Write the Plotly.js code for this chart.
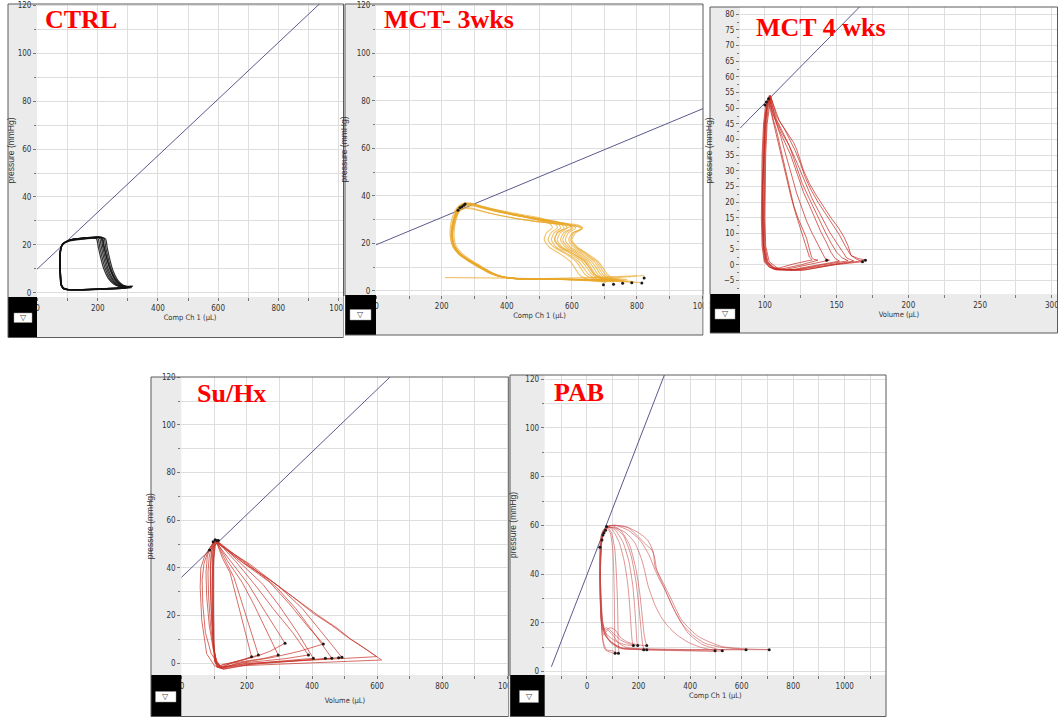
<!DOCTYPE html>
<html><head><meta charset="utf-8">
<script src="https://cdn.plot.ly/plotly-3.0.1.min.js"></script>
<style>html,body{margin:0;padding:0;background:#fff;overflow:hidden}#chart{width:1058px;height:717px}</style>
</head><body><div id="chart"></div>
<script>
// ---------------- DATA ----------------
const panelTitles = ['CTRL', 'MCT- 3wks', 'MCT 4 wks', 'Su/Hx', 'PAB'];
const xAxisTitles = ['Comp Ch 1 (µL)', 'Comp Ch 1 (µL)', 'Volume (µL)', 'Volume (µL)', 'Comp Ch 1 (µL)'];
const yAxisTitle = 'pressure (mmHg)';

// CTRL loops (volume µL, pressure mmHg)
const ctrlV = [
 [88,79,75,74,76,82,106,152,195,201,209,220,235,253,270,283,291,265,200,140,100,88],
 [89,80,76,75,77,83,108,155,200,206,214,225,240,258,275,288,296,268,205,142,102,89],
 [87,78,74,74,76,82,107,156,205,211,219,230,245,263,280,293,301,272,208,145,101,87],
 [90,80,76,75,77,84,110,158,210,216,224,235,250,268,285,298,306,275,210,148,104,90],
 [88,79,75,74,76,83,108,157,215,221,229,240,255,273,290,303,311,280,212,150,102,88],
 [89,80,76,75,77,83,109,158,220,226,234,245,260,278,295,306,314,284,215,152,103,89],
 [88,78,75,74,76,82,107,156,225,231,239,250,265,283,298,309,316,288,218,154,102,88],
 [90,80,76,75,77,84,110,160,212,219,228,240,256,276,294,306,312,282,214,150,104,90]
];
const ctrlP = [
 [1.5,3,8,14,18,20,21.6,22.4,22.6,19.5,15,10,6,3.6,2.6,2.2,2.0,1.7,1.4,1.2,1.3,1.5],
 [1.6,3,8,14,18,20.2,21.8,22.6,22.8,19.5,15,10,6,3.5,2.6,2.3,2.1,1.8,1.4,1.2,1.3,1.6],
 [1.5,3.2,8,14,18.2,20.3,22,22.8,23,19.6,15,10,6,3.4,2.5,2.3,2.2,1.8,1.5,1.3,1.3,1.5],
 [1.6,3,8,14,18,20.2,22,22.8,22.9,19.4,14.8,9.8,5.8,3.4,2.6,2.4,2.3,1.9,1.5,1.2,1.3,1.6],
 [1.5,3.1,8,14,18.1,20.3,22.1,22.9,23.1,19.6,15,10,5.8,3.3,2.6,2.4,2.4,2,1.6,1.3,1.3,1.5],
 [1.6,3,8,14,18,20.2,22,22.8,22.8,19.2,14.6,9.6,5.6,3.3,2.7,2.6,2.6,2.1,1.6,1.3,1.3,1.6],
 [1.5,3,8,14,18,20.1,21.9,22.7,22.6,19,14.4,9.4,5.5,3.2,2.6,2.6,2.8,2.2,1.6,1.3,1.3,1.5],
 [1.6,3,8,14,18.2,20.4,22.1,22.9,23.2,19.8,15.2,10.2,6,3.4,2.5,2.2,2.1,1.8,1.5,1.3,1.3,1.6]
];
const ctrlLineV = [-2, 940];
const ctrlLineP = [9.8, 121];

// MCT 3 weeks loops
const mct3V = [
 [720,690,672,660,645,615,580,565,575,598,588,555,500,440,380,330,292,268,252,241,234,232,238,255,285,320,352,385,430,520,620,710],
 [700,660,640,628,612,582,545,527,536,556,548,520,470,420,370,325,290,262,246,234,227,226,233,250,280,314,346,382,428,520,610,690],
 [760,720,702,690,674,645,612,596,606,628,614,578,515,450,388,335,295,270,254,243,236,233,239,256,287,322,354,388,432,525,640,740],
 [735,680,660,647,630,598,562,546,556,576,568,540,485,430,375,328,291,267,252,241,234,232,238,254,284,318,350,384,430,520,630,720],
 [790,705,688,676,660,630,596,580,590,612,600,566,505,445,384,332,293,272,257,247,240,238,244,262,292,326,357,388,431,522,650,770],
 [705,640,622,610,594,565,530,515,522,540,532,505,460,410,362,320,287,264,250,239,232,230,236,252,281,315,347,380,426,515,610,695],
 [810,700,680,668,652,622,588,572,582,603,592,560,500,440,380,330,292,268,252,241,234,232,238,255,285,320,352,385,430,520,660,790],
 [822,690,668,655,638,606,570,555,565,586,577,548,492,435,378,329,292,268,252,241,234,232,238,254,284,318,350,384,430,520,650,800],
 [750,712,695,683,668,638,605,590,602,628,632,600,530,460,392,337,296,271,255,244,237,234,240,257,288,323,355,389,433,525,640,735],
 [728,670,650,637,620,588,552,537,546,566,558,530,478,425,372,326,290,266,251,240,233,231,237,253,283,317,349,383,429,520,620,712],
 [745,690,668,655,640,606,566,548,555,585,600,570,505,440,378,328,290,266,250,239,231,228,234,251,281,316,348,382,428,520,640,730],
 [770,725,708,696,680,650,616,600,612,632,622,588,520,455,390,336,296,270,254,243,235,232,238,256,287,322,354,388,432,525,650,755]
];
const mct3P = [
 [4.6,5.4,7,9.5,12.5,15.5,18.5,21.5,24.5,26.5,28,28.8,30.3,31.6,33.2,35,36.4,36.2,34.6,31.5,27.5,23,19,15.8,12.8,10,7.6,6,5.2,5,4.8,4.6],
 [4.4,5.3,7,9.5,12.5,15.5,18.5,21.5,24.5,26.6,28.2,29,30.6,32,33.5,35.2,36.6,36.4,34.8,31.6,27.6,23,19,15.8,12.8,10,7.6,6,5.2,5,4.8,4.5],
 [4.2,5.2,7,9.5,12.5,15.5,18.5,21.5,24.5,26.2,27.4,27.8,28.8,30,31.5,33.2,34.8,35,33.8,31,27.2,23,19,15.8,12.8,10,7.6,6,5.2,5,4.7,4.3],
 [5,5.6,7.2,9.6,12.5,15.5,18.5,21.5,24.5,26.4,28,28.8,30.4,31.8,33.4,35.1,36.5,36.3,34.7,31.5,27.5,23,19,15.8,12.8,10,7.6,6,5.2,5,4.9,5],
 [4,5.2,7,9.5,12.5,15.5,18.5,21.5,24.5,26.4,27.8,28.6,30.2,31.6,33.2,34.9,36.3,36.1,34.5,31.4,27.4,23,19,15.8,12.8,10,7.6,6,5.2,5,4.6,4],
 [3.6,5.3,7,9.5,12.5,15.5,18.5,21.5,24.5,26.6,28.4,29.4,31.2,32.8,34.3,35.8,37,36.8,35.2,31.8,27.8,23.2,19.2,16,13,10.2,7.8,6.2,5.4,5,4.6,3.8],
 [3.5,5,7,9.5,12.5,15.5,18.5,21.5,24.5,26.5,27.9,28.9,30.8,32.3,33.8,35.4,36.8,36.5,34.8,31.5,27.5,23,19,15.8,12.8,10,7.6,6,5.2,5,4.5,3.6],
 [6.5,5.5,7.2,9.6,12.5,15.5,18.5,21.5,24.5,26.5,28,28.8,30.4,31.8,33.4,35,36.4,36.2,34.6,31.5,27.5,23,19,15.8,12.8,10,7.6,6,5.2,5.2,5.6,6.4],
 [4.4,5.3,7,9.5,12.5,15.5,18.5,21.5,24.5,25.8,26.8,27.4,28.6,29.8,31.4,33,34.4,34.6,33.6,30.8,27,22.8,18.8,15.6,12.6,9.8,7.5,6,5.2,5,4.7,4.4],
 [3.8,5.4,7.1,9.5,12.5,15.5,18.5,21.5,24.5,26.5,28.1,28.9,30.5,31.9,33.5,35.2,36.6,36.4,34.8,31.6,27.6,23,19,15.8,12.8,10,7.6,6,5.2,5,4.7,3.9],
 [4.2,5.3,7,9.5,12.5,15.5,18.5,21.5,24.5,26.5,27.5,28.4,30.2,31.7,33.4,35.1,36.5,36.2,34.5,31.3,27.3,22.8,18.8,15.6,12.6,9.8,7.5,6,5.2,5,4.6,4.2],
 [4.8,5.5,7.2,9.6,12.5,15.5,18.5,21.5,24.5,26.3,27.6,28.3,29.8,31.2,32.8,34.4,35.8,35.6,34,31,27,22.6,18.6,15.4,12.4,9.6,7.4,5.9,5.1,5,4.8,4.8]
];
const mct3FillV = [210, 420];
const mct3FillP = [5.6, 5.4];
const mct3DotsV = [697, 728, 756, 784, 815, 822, 250, 256, 262, 268, 272];
const mct3DotsP = [2.6, 2.8, 3.2, 3.5, 3.3, 5.5, 34, 35, 35.4, 36, 36.6];
const mct3LineV = [-2, 1003];
const mct3LineP = [19.4, 76.7];

// MCT 4 weeks loops
const mct4V = [
 [137,125,112,104,100,98.5,98,98,98.5,99.5,101,102.5,104,106,108,110.5,113,115,117.4,120,123,126,129,131,132.5,134,137],
 [145,130,115,105,100.5,99,98.5,98.5,99,100,101.5,103,105,108,111,114,116,119,122,125,129,133,137,140,142,145],
 [152,135,118,106,101,99,98.5,98.5,99,100,101.5,103,106,110,114,118,121,124,127,131,135,139,143,146,149,152],
 [158,140,120,107,101.5,99.5,99,99,99.5,100.5,102,103.5,107,112,117,120,123,126,130,134,138,142,146,150,154,158],
 [168,148,125,108,102,100,99.5,99.5,100,101,102.5,104,108,114,118,121,125,128,132,137,142,147,152,156,160,164,168],
 [171,150,128,110,103,100.5,100,100,100.5,101.5,103,104,110,116,120,122,125,127,131,136,141,146,151,155,158,160,165,171],
 [133,120,110,103,99.5,98,97.5,97.5,98,99,100.5,102,104,106,108,110,112.5,115,118,121,124,127,129,131,133],
 [162,144,122,107,101,99,98.5,98.5,99,100,101.5,103,108,113,117,121,125,129,133,137,141,145,150,154,157,162]
];
const mct4P = [
 [1.5,0,-1.3,-1,1,6,15,25,35,45,51,53.5,50,46,43,38,33,29,24,19,15,12,8.5,5,2.5,1.8,1.5],
 [1.5,0,-1.4,-1.2,1,6,15,25,35,45,51,54,49,45,41,36,33,28,23,19,14,10,6.5,3.5,2,1.5],
 [1.2,-0.2,-1.6,-1.4,1,6,15,25,35,45,51,53,48,43,39,35,31,27,23,19,14.5,10.5,7,4,2,1.2],
 [1.3,0,-1.7,-1.5,1,6,15,25,35,45,51,54.2,47,42,38,34,30,26,22,18,14,10.5,7,4,2.2,1.3],
 [1,0,-1.8,-1.6,1,6,15,25,35,45,51,54,47.5,43,39.5,36.5,32,28,24,20,16.5,13,9.5,6,3,1.8,1],
 [1.5,0.2,-1.6,-1.5,1,6,15,25,35,45,51,53.5,46,42,39,37,33,30,26,22,18.5,15,12,9,6,3,2,1.5],
 [1.6,0.3,-1,-0.8,1,6,15,25,35,45,51,53,49,45,41,37,32,27,22,17,12.5,8,5,2.5,1.6],
 [1.2,0,-1.6,-1.4,1,6,15,25,35,45,51,53.8,46.5,42,38,34,29.5,25,21,17.5,14,10.5,7,4,2.2,1.2]
];
const mct4DotsV = [143, 168, 170, 101, 102.5, 100];
const mct4DotsP = [1.5, 1, 1.5, 52, 53, 51];
const mct4LineV = [82.6, 170];
const mct4LineP = [43.6, 84.2];

// Su/Hx loops
const suhxV = [
 [214,190,160,130,110,102,99,97,96,96,97,100,107,125,148,170,192,214],
 [235,200,160,125,108,101,97,95,94,94,96,99,106,130,160,185,210,235],
 [296,250,200,150,115,104,98,94,92,92,94,98,105,140,185,220,260,296],
 [317,270,220,160,118,105,97,91,88,88,91,96,104,150,205,245,285,317],
 [389,320,250,170,120,106,98,92,88,87,90,95,103,170,230,280,340,389],
 [404,330,260,180,122,107,97,88,82,80,84,92,103,180,250,300,355,404],
 [435,360,280,190,124,108,96,84,76,74,78,88,102,190,270,330,390,435],
 [461,380,290,200,126,109,90,72,64,62,68,80,101,200,290,350,410,461],
 [492,400,300,210,128,100,76,61,56,58,70,81,100,210,300,370,430,492],
 [599,500,400,300,200,130,112,100,96,95,95,97,102,110,190,271,340,404,460,507,555,599],
 [614,540,450,350,250,150,115,102,97,96,96,98,103,112,195,280,350,420,480,520,570,614]
];
const suhxP = [
 [2.8,1.5,0.5,-0.5,-1.5,1,8,18,30,40,46,50,50.5,44,38,26,14,2.8],
 [3.5,2,0.5,-0.5,-1.8,1,8,18,30,40,46,50,51,44,36,25,14,3.5],
 [3.5,2,1,0,-1.8,0.5,7,18,30,40,46,50,51.5,43,34,25,14,3.5],
 [8.4,5,2.5,0.5,-2,0.5,7,18,30,40,46,50,51,43,33,24,15,8.4],
 [3.5,2,1,0,-2,0.5,7,18,30,40,46,50,52,42,32,23,13,3.5],
 [2.1,1.2,0.5,-0.5,-2.2,0.5,6,16,28,38,45,49.5,52,42,33,24,13,2.1],
 [8.1,5,2.5,0.5,-2,0.5,6,16,28,38,45,49,51.5,42,34,25,15,8.1],
 [2.1,1.4,0.6,-0.5,-2.4,0.5,4,13,25,35,42,47,51.5,42,32,23,12,2.1],
 [2.5,1.5,0.7,-0.5,-2.5,-1,4,18,32,40,45,47.5,51,41.5,32,23,13,2.5],
 [2.8,2,1.2,0.6,0,-1.5,-1.8,1,10,22,35,44,50,50.5,42,35,28,21,16,11.2,7,2.8],
 [1.4,1,0.5,0,-0.5,-1.2,-2,1,10,22,35,44,50,51,42,34,27,20,14.5,10,5.5,1.4]
];
const suhxDotsV = [214, 235, 296, 317, 389, 404, 435, 441, 461, 482, 492, 85, 96, 102, 108, 112];
const suhxDotsP = [2.8, 3.5, 3.5, 8.4, 3.5, 2.1, 8.1, 2.1, 2.1, 2.3, 2.5, 47.5, 51, 51.8, 51.5, 51.5];
const suhxLineV = [-2, 640];
const suhxLineP = [36, 120.1];

// PAB loops
const pabV = [
 [109,90,70,62,58,55,52,50,50,52,56,64,76,90,100,104,106,107,108,109],
 [122,100,75,62,57,53,50,49,50,53,58,66,78,95,108,114,118,120,121,122],
 [180,150,120,90,70,60,55,52,51,52,55,60,68,80,100,125,145,158,165,170,174,178,180],
 [197,160,130,100,75,62,56,52,51,52,55,60,70,85,110,140,163,178,186,191,194,197],
 [232,200,160,130,110,90,70,58,53,51,52,55,62,75,95,130,165,190,205,215,222,228,232],
 [220,190,150,120,100,80,65,57,53,52,53,57,65,80,105,140,170,190,202,210,216,220],
 [497,400,300,200,130,90,68,58,53,52,54,58,66,80,110,150,186,215,238,265,290,315,350,393,440,497],
 [525,420,320,220,140,95,70,59,54,52,54,58,66,80,110,160,205,240,263,280,303,340,393,450,525],
 [617,520,420,320,220,140,95,70,59,54,52,54,58,66,80,110,160,199,230,251,262,270,285,303,335,367,410,458,520,617],
 [707,600,500,400,300,200,120,80,62,55,52,53,57,64,78,100,150,200,235,257,264,290,322,367,432,523,620,707]
];
const pabP = [
 [7.5,8,9,12,16,22,30,40,48,53,56,58,59,57,50,40,30,20,12,7.5],
 [7.5,8.5,9,13,18,25,33,42,49,54,57,58.5,59.5,57,50,40,30,20,12,7.5],
 [10.7,11,12,14,16,18,22,30,40,48,53,56,58,59.5,58,53,45,36,28,20,14,11,10.7],
 [10.7,11.5,13,16,18,17,20,28,38,47,53,56,58,59.5,58,53,45,35,25,17,12,10.7],
 [10.7,11,12,14,17,18,17,20,28,38,47,53,57,59,60,58,52,42,32,22,15,12,10.7],
 [9,9.5,10,12,15,17,15,20,30,40,48,54,57,59,59,56,48,37,26,17,11,9],
 [8.5,8.5,8.7,9,9.5,12,16,22,30,40,48,54,57,59,59,57,52.8,45,34.9,27,22,18.5,15,12,10,8.5],
 [8.5,8.6,8.8,9,9.5,12,15,21,30,40,48,54,57,59.5,60,58,54,48,42,38,33.5,25,15.7,11,8.5],
 [9,9,9,9,9.2,9.5,12,15,21,30,40,48,54,57,59.5,60,59,55.4,52,50,47,42,38,33.5,26,19.8,15,11.6,10,9],
 [9,9,9,9,9.2,9.4,10,14,20,30,40,48,54,57,59.5,60,59.5,57,54,49.2,43.1,37.6,30.8,21.2,14.4,10.3,9.3,9]
];
const pabDotsV = [109, 122, 180, 197, 232, 220, 232, 497, 525, 617, 707, 50, 58, 62, 66, 72, 76];
const pabDotsP = [7.5, 7.5, 10.7, 10.7, 10.7, 9, 9, 8.5, 8.5, 9, 9, 51, 54, 56, 57, 58, 59.5];
const pabLineV = [-138, 305];
const pabLineP = [2, 123];

// ---------------- LAYOUT HELPERS ----------------
const W = 1058, H = 717;
const fx = px => px / W;
const fy = py => 1 - py / H;
const NARROW = 'Liberation Sans Narrow, DejaVu Sans Condensed, Arial Narrow, sans-serif';
const SANS = 'Liberation Sans, Arial, sans-serif';
const GRID = '#dedede';
const STRIP = '#ebebeb';
const LINECOL = '#5a5a8e';

const panels = [
 {ax:'',  frame:[8,4,343.5,337.5], plot:[37,4,343,297], xr:[-2,1015], yr:[-1.8,120.6], xd:200, xm:100, yd:20, ym:10, ymGrid:true, btn:[14,313,32,322.5], title:[44,19], ystand:1, xstand:1},
 {ax:'2', frame:[345,4,703,335], plot:[376,4,703,295], xr:[-2,1003], yr:[-1.7,120.7], xd:200, xm:100, yd:20, ym:10, ymGrid:true, btn:[350,309.5,371,320], title:[383,19], ystand:7, xstand:1},
 {ax:'3', frame:[710,7,1057.5,333], plot:[740,7,1058,294], xr:[82.6,304.3], yr:[-9.3,82.3], xd:50, xm:25, yd:5, ym:2.5, ymGrid:false, btn:[715,309,735,319], title:[755,27], ystand:9, xstand:2},
 {ax:'4', frame:[151,377,508.7,716.5], plot:[181.3,377.3,508.7,675], xr:[-2,1005], yr:[-4.9,120], xd:200, xm:100, yd:20, ym:10, ymGrid:true, btn:[155.5,691.5,176,702], title:[196,393], ystand:6, xstand:8},
 {ax:'5', frame:[510,375,886,716.5], plot:[544.7,375,886,675], xr:[-164,1160], yr:[-1.4,121.7], xd:200, xm:100, yd:20, ym:10, ymGrid:true, btn:[519.5,690.5,538.5,702.5], title:[553,392], ystand:7, xstand:2}
];

const loopSets = [
 {V:ctrlV, P:ctrlP, color:'#111111', width:1.2, opacity:0.85, shape:'spline'},
 {V:mct3V, P:mct3P, color:'#eaa82a', width:1.1, opacity:0.7, shape:'spline'},
 {V:mct4V, P:mct4P, color:'#c4281e', width:0.9, opacity:0.8, shape:'linear'},
 {V:suhxV, P:suhxP, color:'#c8342a', width:0.9, opacity:0.8, shape:'linear'},
 {V:pabV, P:pabP, color:'#c84848', width:0.9, opacity:0.65, shape:'spline'}
];
const espvr = [[ctrlLineV, ctrlLineP],[mct3LineV, mct3LineP],[mct4LineV, mct4LineP],[suhxLineV, suhxLineP],[pabLineV, pabLineP]];
const dots = [null, [mct3DotsV, mct3DotsP], [mct4DotsV, mct4DotsP], [suhxDotsV, suhxDotsP], [pabDotsV, pabDotsP]];

const traces = [];
const layout = {
 width: W, height: H, margin:{l:0,r:0,t:0,b:0}, paper_bgcolor:'#ffffff', plot_bgcolor:'rgba(0,0,0,0)',
 showlegend:false, shapes:[], annotations:[]
};

panels.forEach((p, i) => {
 const xa = 'x' + p.ax, ya = 'y' + p.ax;
 const set = loopSets[i];
 traces.push({type:'scatter', mode:'lines', x:espvr[i][0], y:espvr[i][1], xaxis:xa, yaxis:ya,
   line:{color:LINECOL, width:1}, hoverinfo:'skip'});
 set.V.forEach((v, k) => {
   traces.push({type:'scatter', mode:'lines', x:v, y:set.P[k], xaxis:xa, yaxis:ya,
     line:{color:set.color, width:set.width, shape:set.shape, smoothing:0.6}, opacity:set.opacity, hoverinfo:'skip'});
 });
 if (i === 1) {
   traces.push({type:'scatter', mode:'lines', x:mct3FillV, y:mct3FillP, xaxis:xa, yaxis:ya,
     line:{color:set.color, width:1}, opacity:0.8, hoverinfo:'skip'});
 }
 if (dots[i]) {
   traces.push({type:'scatter', mode:'markers', x:dots[i][0], y:dots[i][1], xaxis:xa, yaxis:ya,
     marker:{color:'#1a1a1a', size:3}, hoverinfo:'skip'});
 }
 const tickfont = {family:NARROW, size:8, color:'#333'};
 layout['xaxis' + p.ax] = {
   domain:[fx(p.plot[0]), fx(p.plot[2])], range:p.xr, anchor:ya, tick0:0, dtick:p.xd,
   ticks:'outside', ticklen:3, tickcolor:'#777', tickwidth:1, ticklabeloverflow:'allow',
   minor:{dtick:p.xm, ticks:'outside', ticklen:3, tickcolor:'#777', showgrid:true, gridcolor:GRID, gridwidth:1},
   showgrid:true, gridcolor:GRID, gridwidth:1, zeroline:false, showline:false, tickfont:tickfont,
   title:{text:xAxisTitles[i], font:{family:NARROW, size:7.5, color:'#333'}, standoff:p.xstand}, fixedrange:true, automargin:false
 };
 layout['yaxis' + p.ax] = {
   domain:[fy(p.plot[3]), fy(p.plot[1])], range:p.yr, anchor:xa, tick0:0, dtick:p.yd,
   ticks:'outside', ticklen:3, tickcolor:'#777', tickwidth:1, ticklabeloverflow:'allow',
   minor:{dtick:p.ym, ticks:'outside', ticklen:2, tickcolor:'#777', showgrid:p.ymGrid, gridcolor:GRID, gridwidth:1},
   showgrid:true, gridcolor:GRID, gridwidth:1, zeroline:false, showline:false, tickfont:tickfont,
   title:{text:yAxisTitle, font:{family:SANS, size:8.5, color:'#333'}, standoff:p.ystand}, fixedrange:true, automargin:false
 };
 const f = p.frame, pl = p.plot;
 layout.shapes.push({type:'rect', xref:'paper', yref:'paper', layer:'below', x0:fx(f[0]), x1:fx(pl[0]), y0:fy(pl[3]), y1:fy(f[1]), fillcolor:STRIP, line:{width:0}});
 layout.shapes.push({type:'rect', xref:'paper', yref:'paper', layer:'below', x0:fx(pl[0]), x1:fx(f[2]), y0:fy(f[3]), y1:fy(pl[3]), fillcolor:STRIP, line:{width:0}});
 layout.shapes.push({type:'rect', xref:'paper', yref:'paper', layer:'above', x0:fx(f[0]), x1:fx(pl[0]), y0:fy(f[3]), y1:fy(pl[3]), fillcolor:'#000', line:{width:0}});
 layout.shapes.push({type:'rect', xref:'paper', yref:'paper', layer:'above', x0:fx(p.btn[0]), x1:fx(p.btn[2]), y0:fy(p.btn[3]), y1:fy(p.btn[1]), fillcolor:'#fff', line:{width:0.5, color:'#999'}});
 layout.shapes.push({type:'rect', xref:'paper', yref:'paper', layer:'above', x0:fx(f[0]), x1:fx(f[2]), y0:fy(f[3]), y1:fy(f[1]), fillcolor:'rgba(0,0,0,0)', line:{width:1, color:'#5a5a5a'}});
 layout.annotations.push({xref:'paper', yref:'paper', x:fx((p.btn[0]+p.btn[2])/2), y:fy((p.btn[1]+p.btn[3])/2), text:'▽', showarrow:false, xanchor:'center', yanchor:'middle', font:{family:'DejaVu Sans', size:8, color:'#444'}});
 layout.annotations.push({xref:'paper', yref:'paper', x:fx(p.title[0]), y:fy(p.title[1]), text:'<b>' + panelTitles[i] + '</b>', showarrow:false, xanchor:'left', yanchor:'middle', borderpad:0, font:{family:'Liberation Serif, Times New Roman, serif', size:26, color:'#ff0000'}});
});
[[343.6,296,345,338],[703.6,294,709.6,337],[508.8,676,509.8,717]].forEach(c => {
 layout.shapes.push({type:'rect', xref:'paper', yref:'paper', layer:'above', x0:fx(c[0]), x1:fx(c[2]), y0:fy(c[3]), y1:fy(c[1]), fillcolor:'#fff', line:{width:0}});
});

Plotly.newPlot('chart', traces, layout, {staticPlot:true, displayModeBar:false});
</script></body></html>
